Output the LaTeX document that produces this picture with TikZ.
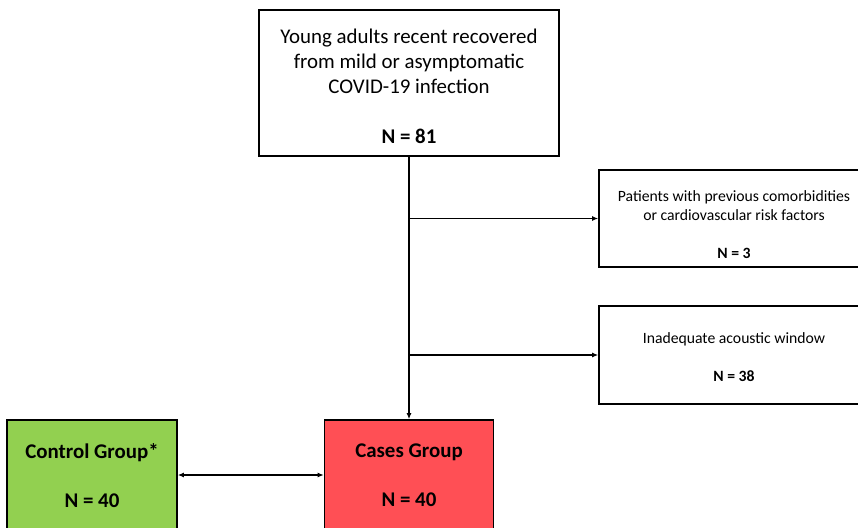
\documentclass[tikz,border=0pt]{standalone}
\usepackage{fontspec}
\setmainfont{Carlito}
\usetikzlibrary{positioning,arrows.meta}
\definecolor{ctrlgreen}{RGB}{146,208,80}
\definecolor{casered}{RGB}{255,79,85}
\tikzset{
  flowbox/.style={draw=black, line width=1.6pt, inner sep=0pt},
  bigtext/.style={align=center, font=\fontsize{20.9}{25}\selectfont},
  smalltext/.style={align=center, font=\fontsize{15.7}{19}\selectfont},
  flowarrow/.style={line width=1.5pt, -{Latex[length=6pt,width=5pt]}},
}
\begin{document}
\begin{tikzpicture}[x=1pt,y=-1pt]
\useasboundingbox (0,0) rectangle (858,527);
\clip (0,0) rectangle (858,527);

% study population
\node[flowbox, line width=2.4pt, minimum width=300pt, minimum height=146pt] (cohort) at (409,83) {};
\node[bigtext] (cohorttxt) at ([yshift=-3.5]cohort.center)
  {Young adults recent recovered\\from mild or asymptomatic\\COVID-19 infection\\[25pt]\textbf{N = 81}};

% excluded
\node[flowbox, minimum width=270pt, minimum height=97pt] (comorb) at (734,218.5) {};
\node[smalltext] (comorbtxt) at ([yshift=-6]comorb.center)
  {Patients with previous comorbidities\\or cardiovascular risk factors\\[19pt]\textbf{N = 3}};
\node[flowbox, minimum width=270pt, minimum height=98pt] (window) at (734,355) {};
\node[smalltext] (windowtxt) at ([yshift=-2]window.center)
  {Inadequate acoustic window\\[19pt]\textbf{N = 38}};

% groups
\node[flowbox, fill=ctrlgreen, minimum width=170pt, minimum height=110pt] (control) at (92,475) {};
\node[bigtext] (controltxt) at ([yshift=-0.5]control.center)
  {\textbf{Control Group*}\\[24pt]\textbf{N = 40}};
\node[flowbox, fill=casered, minimum width=169pt, minimum height=110pt] (cases) at (409,475) {};
\node[bigtext] (casestxt) at ([yshift=-0.5]cases.center)
  {\textbf{Cases Group}\\[24pt]\textbf{N = 40}};

\draw[flowarrow] (cohort.south) -- (cases.north);
\foreach \excl in {comorb,window}{
  \draw[flowarrow] (cohort.south |- \excl.west) -- (\excl.west);
}
\draw[flowarrow, {Latex[length=6pt,width=5pt]}-{Latex[length=6pt,width=5pt]}] (control.east) -- (cases.west);
\end{tikzpicture}
\end{document}
